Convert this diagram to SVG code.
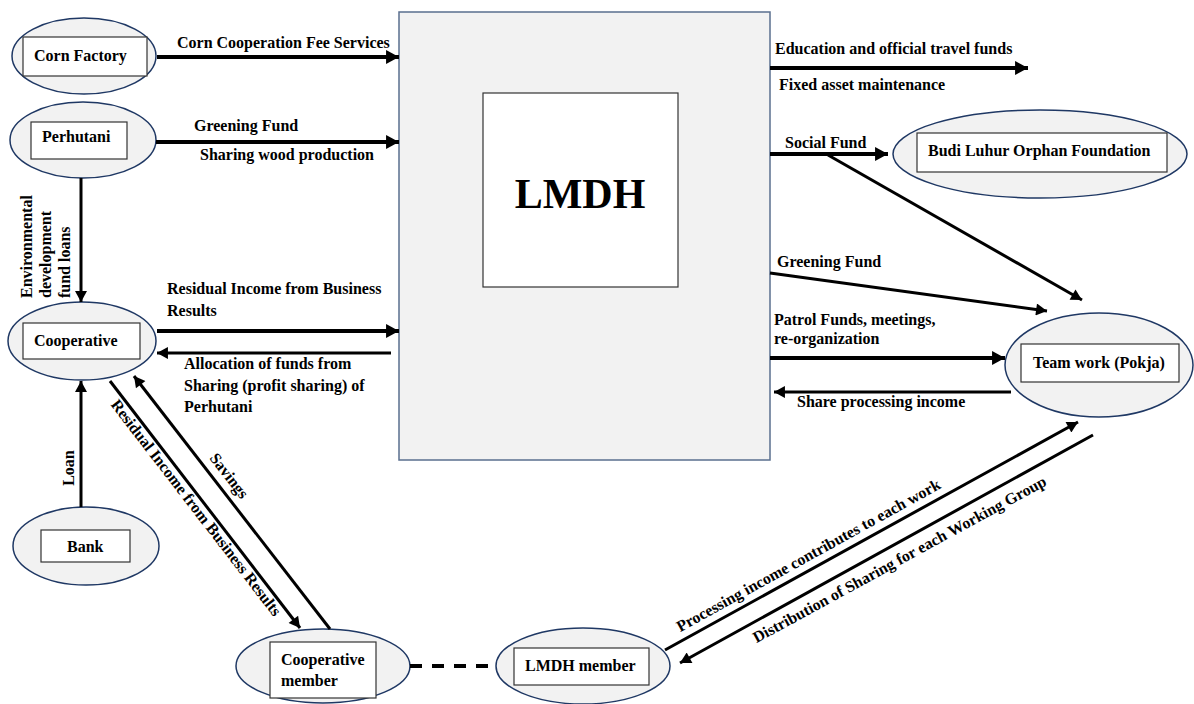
<svg xmlns="http://www.w3.org/2000/svg" width="1194" height="704" viewBox="0 0 1194 704">
  <style>
    text { font-family: "Liberation Serif", "Times New Roman", serif; font-weight: bold; font-size: 16px; fill: #000; }
    .oval { fill: #f2f2f2; stroke: #1f3864; stroke-width: 1.5; }
    .box { fill: #fff; stroke: #333; stroke-width: 1.2; }
    .main { fill: #f2f2f2; stroke: #5a6f8f; stroke-width: 1.5; }
    .inner { fill: #fff; stroke: #333; stroke-width: 1.2; }
    .flow { fill: none; stroke: #000; stroke-width: 4; }
    .thin { fill: none; stroke: #000; stroke-width: 3; }
    .big { marker-end: url(#headL); }
    .small { marker-end: url(#headS); }
    .dash { fill: none; stroke: #000; stroke-width: 4; stroke-dasharray: 12 10; }
  </style>
  <defs>
    <marker id="headL" markerUnits="userSpaceOnUse" markerWidth="14" markerHeight="14" viewBox="0 0 12 13" refX="12" refY="6.5" orient="auto">
      <path d="M0,0 L12,6.5 L0,13 Z" fill="#000"/>
    </marker>
    <marker id="headS" markerUnits="userSpaceOnUse" markerWidth="12" markerHeight="12" viewBox="0 0 10 11" refX="10" refY="5.5" orient="auto">
      <path d="M0,0 L10,5.5 L0,11 Z" fill="#000"/>
    </marker>
  </defs>

  <!-- central organisation -->
  <g id="lmdh">
    <rect class="main" x="399" y="12" width="371" height="448"/>
    <rect class="inner" x="483" y="93" width="195" height="194"/>
    <text x="580" y="208" text-anchor="middle" style="font-size:42px">LMDH</text>
  </g>

  <g id="corn-factory">
    <ellipse class="oval" cx="84" cy="56" rx="72" ry="38"/>
    <rect class="box" x="23" y="37" width="124" height="39"/>
    <text x="34" y="61">Corn Factory</text>
  </g>

  <g id="perhutani">
    <ellipse class="oval" cx="83" cy="140" rx="73" ry="38"/>
    <rect class="box" x="31" y="122" width="96" height="37"/>
    <text x="42" y="142">Perhutani</text>
  </g>

  <g id="cooperative">
    <ellipse class="oval" cx="82" cy="341" rx="74" ry="39"/>
    <rect class="box" x="23" y="323" width="117" height="36"/>
    <text x="34" y="346">Cooperative</text>
  </g>

  <g id="bank">
    <ellipse class="oval" cx="86" cy="546" rx="73" ry="39"/>
    <rect class="box" x="41" y="530" width="89" height="32"/>
    <text x="67" y="552">Bank</text>
  </g>

  <g id="cooperative-member">
    <ellipse class="oval" cx="323" cy="666" rx="87" ry="37"/>
    <rect class="box" x="270" y="642" width="106" height="56"/>
    <text x="281" y="665">Cooperative</text>
    <text x="281" y="686">member</text>
  </g>

  <g id="lmdh-member">
    <ellipse class="oval" cx="583" cy="666" rx="87" ry="38"/>
    <rect class="box" x="514" y="648" width="135" height="37"/>
    <text x="525" y="671">LMDH member</text>
  </g>

  <g id="orphan-foundation">
    <ellipse class="oval" cx="1040" cy="154" rx="147" ry="44"/>
    <rect class="box" x="917" y="133" width="250" height="39"/>
    <text x="928" y="156">Budi Luhur Orphan Foundation</text>
  </g>

  <g id="team-work">
    <ellipse class="oval" cx="1099" cy="365" rx="94" ry="52"/>
    <rect class="box" x="1021" y="344" width="158" height="38"/>
    <text x="1033" y="368">Team work (Pokja)</text>
  </g>

  <!-- flows of funds -->
  <g id="connectors">
    <line class="flow big" x1="157" y1="57" x2="399" y2="57"/>
    <line class="flow big" x1="156" y1="142" x2="399" y2="142"/>
    <line class="thin small" x1="81" y1="178" x2="81" y2="302"/>
    <line class="flow big" x1="157" y1="331" x2="399" y2="331"/>
    <line class="thin small" x1="391" y1="353" x2="157" y2="353"/>
    <line class="thin small" x1="81" y1="507" x2="81" y2="381"/>
    <line class="thin small" x1="330" y1="629" x2="134" y2="376"/>
    <line class="thin small" x1="110" y1="381" x2="300" y2="628"/>
    <line class="dash" x1="410" y1="666" x2="495" y2="666"/>

    <line class="flow big" x1="770" y1="68" x2="1028" y2="68"/>
    <line class="flow big" x1="770" y1="154" x2="888" y2="154"/>
    <line class="thin small" x1="828" y1="155" x2="1082" y2="300"/>
    <line class="thin small" x1="770" y1="273" x2="1047" y2="311"/>
    <line class="flow big" x1="770" y1="358" x2="1005" y2="358"/>
    <line class="thin small" x1="1011" y1="392" x2="774" y2="392"/>
    <line class="thin small" x1="665" y1="650" x2="1078" y2="422"/>
    <line class="thin small" x1="1093" y1="435" x2="680" y2="663"/>
  </g>

  <!-- flow labels -->
  <g id="labels">
    <text x="177" y="48">Corn Cooperation Fee Services</text>
    <text x="194" y="131">Greening Fund</text>
    <text x="200" y="160">Sharing wood production</text>
    <text transform="rotate(-90 32 298)" x="32" y="298">Environmental</text>
    <text transform="rotate(-90 51 298)" x="51" y="298">development</text>
    <text transform="rotate(-90 70 298)" x="70" y="298">fund loans</text>
    <text x="167" y="294">Residual Income from Business</text>
    <text x="167" y="316">Results</text>
    <text x="184" y="369">Allocation of funds from</text>
    <text x="184" y="391">Sharing (profit sharing) of</text>
    <text x="184" y="412">Perhutani</text>
    <text transform="rotate(-90 74 468)" x="74" y="468" text-anchor="middle">Loan</text>
    <text transform="rotate(52.4 192 511)" x="192" y="511" text-anchor="middle">Residual Income from Business Results</text>
    <text transform="rotate(52.2 225 479)" x="225" y="479" text-anchor="middle">Savings</text>

    <text x="775" y="54">Education and official travel funds</text>
    <text x="779" y="90">Fixed asset maintenance</text>
    <text x="785" y="148">Social Fund</text>
    <text x="777" y="267">Greening Fund</text>
    <text x="774" y="325">Patrol Funds, meetings,</text>
    <text x="774" y="344">re-organization</text>
    <text x="797" y="407">Share processing income</text>
    <text transform="rotate(-28.9 811 560)" x="811" y="560" text-anchor="middle">Processing income contributes to each work</text>
    <text transform="rotate(-28.6 902 564)" x="902" y="564" text-anchor="middle">Distribution of Sharing for each Working Group</text>
  </g>
</svg>
